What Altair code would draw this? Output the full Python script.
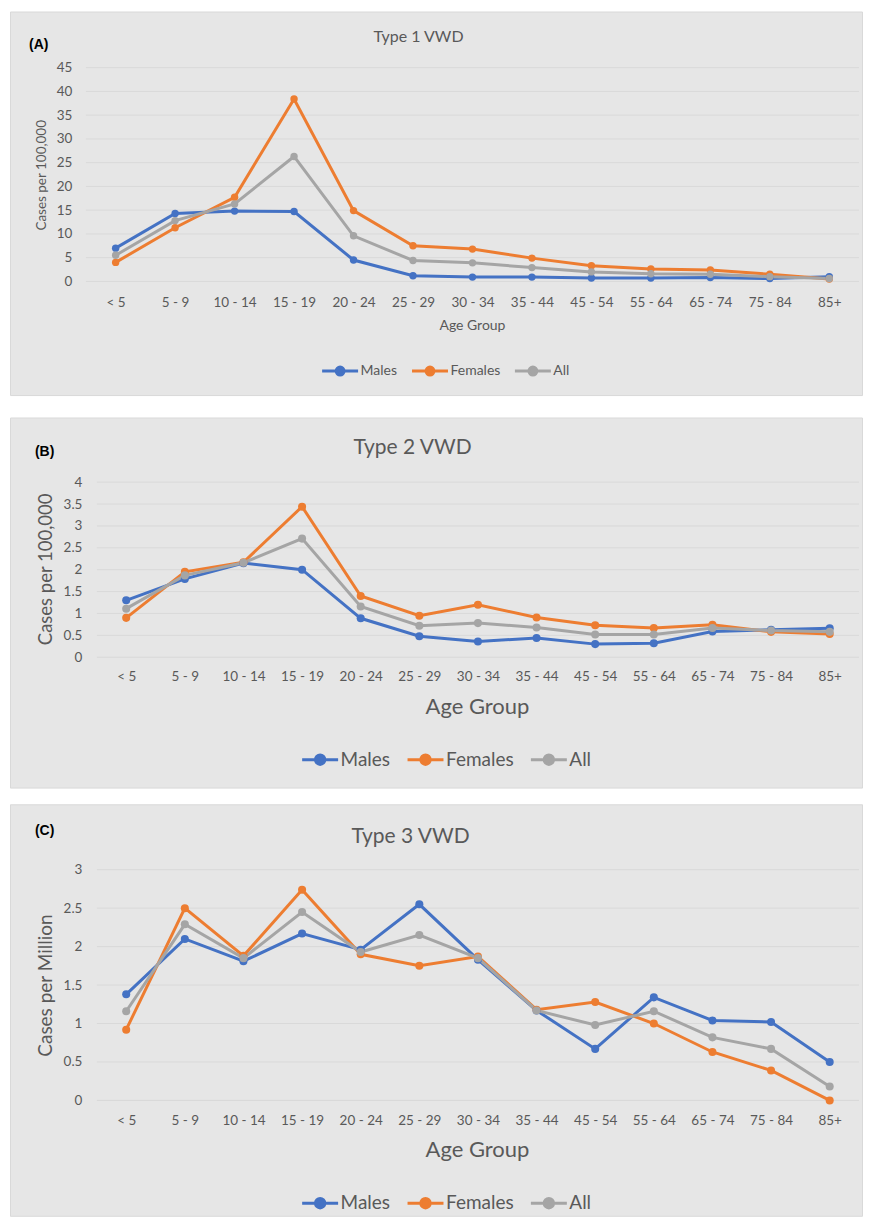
import altair as alt
import pandas as pd

ages = ["< 5", "5 - 9", "10 - 14", "15 - 19", "20 - 24", "25 - 29", "30 - 34",
        "35 - 44", "45 - 54", "55 - 64", "65 - 74", "75 - 84", "85+"]
series = ["Males", "Females", "All"]
colors = ["#4472C4", "#ED7D31", "#A5A5A5"]

# Type 1 VWD (cases per 100,000)
t1_males = [7.0, 14.3, 14.8, 14.7, 4.5, 1.2, 0.9, 0.9, 0.7, 0.7, 0.8, 0.6, 1.0]
t1_females = [4.0, 11.3, 17.7, 38.4, 14.9, 7.5, 6.8, 4.9, 3.3, 2.6, 2.4, 1.5, 0.5]
t1_all = [5.5, 12.8, 16.3, 26.3, 9.6, 4.4, 3.9, 2.9, 2.0, 1.6, 1.5, 1.0, 0.6]

# Type 2 VWD (cases per 100,000)
t2_males = [1.30, 1.79, 2.15, 2.00, 0.89, 0.48, 0.36, 0.44, 0.30, 0.32, 0.59, 0.63, 0.66]
t2_females = [0.90, 1.95, 2.17, 3.44, 1.40, 0.95, 1.20, 0.91, 0.73, 0.67, 0.74, 0.58, 0.53]
t2_all = [1.11, 1.87, 2.16, 2.71, 1.16, 0.72, 0.78, 0.68, 0.52, 0.52, 0.67, 0.61, 0.58]

# Type 3 VWD (cases per million)
t3_males = [1.38, 2.10, 1.81, 2.17, 1.96, 2.55, 1.83, 1.17, 0.67, 1.34, 1.04, 1.02, 0.50]
t3_females = [0.92, 2.50, 1.88, 2.74, 1.90, 1.75, 1.87, 1.18, 1.28, 1.00, 0.63, 0.39, 0.00]
t3_all = [1.16, 2.29, 1.85, 2.45, 1.93, 2.15, 1.85, 1.17, 0.98, 1.16, 0.82, 0.67, 0.18]

ticks_a = [0, 5, 10, 15, 20, 25, 30, 35, 40, 45]
ticks_b = [0, 0.5, 1, 1.5, 2, 2.5, 3, 3.5, 4]
ticks_c = [0, 0.5, 1, 1.5, 2, 2.5, 3]

FONT = "Lato"
TXT = "#595959"
BG = "#e6e6e6"
EDGE = "#d9d9d9"
GRID = "#d9d9d9"
W = 774


def long_df(m, f, a):
    rows = []
    for s, vals in zip(series, [m, f, a]):
        for age, v in zip(ages, vals):
            rows.append({"age": age, "series": s, "value": v})
    return pd.DataFrame(rows)


def sym_path(r):
    # line + circle legend glyph, drawn over [-2, 2] so that the legend row stays short
    return (f"M-2,0H{-r}A{r},{r},0,1,1,{r},0A{r},{r},0,1,1,{-r},0M{r},0H2")


def txt(text, x, y, size, align="center", baseline="alphabetic", angle=0,
        color=TXT, font=FONT, weight="normal"):
    return alt.Chart(alt.Data(values=[{}])).mark_text(
        text=text, align=align, baseline=baseline, angle=angle, fontSize=size,
        font=font, color=color, fontWeight=weight
    ).encode(x=alt.value(x), y=alt.value(y))


def panel(df, ticks, ydomain, height, yrange, xrange, c):
    yscale = alt.Scale(domain=ydomain, range=yrange, nice=False, zero=True)
    xscale = alt.Scale(type="point", padding=0.5, range=xrange)
    yaxis = alt.Axis(values=ticks, format="~g", grid=False, ticks=False, domain=False,
                     title=None, labelFont=FONT, labelFontSize=c["ylab"], labelColor=TXT,
                     labelPadding=c["ypad"], offset=c["yoff"], zindex=2)
    xaxis = alt.Axis(grid=False, ticks=False, domain=False, title=None, labelAngle=0,
                     labelFont=FONT, labelFontSize=c["xlab"], labelColor=TXT,
                     labelPadding=c["xpad"], zindex=2)
    leg = alt.Legend(title=None, orient="none", legendX=c["legx"], legendY=c["legy"],
                     direction="horizontal", symbolType=sym_path(c["r"]), symbolSize=324,
                     symbolStrokeWidth=3, labelFont=FONT, labelFontSize=c["legfs"],
                     labelColor=TXT, labelOffset=10, columnPadding=c["colpad"],
                     zindex=2)
    cscale = alt.Scale(domain=series, range=colors)

    bg = alt.Chart(alt.Data(values=[{}])).mark_rect(
        fill=BG, stroke=EDGE, strokeWidth=1
    ).encode(x=alt.value(c["rect"][0]), x2=alt.value(c["rect"][1]),
             y=alt.value(c["rect"][2]), y2=alt.value(c["rect"][3]))

    grid = alt.Chart(pd.DataFrame({"t": ticks})).mark_rule(
        color=GRID, strokeWidth=1
    ).encode(y=alt.Y("t:Q", scale=yscale, axis=yaxis),
             x=alt.value(xrange[0]), x2=alt.value(W))

    base = alt.Chart(df)
    x = alt.X("age:O", sort=ages, scale=xscale, axis=xaxis)
    y = alt.Y("value:Q", scale=yscale, axis=yaxis)
    line = base.mark_line(strokeWidth=3).encode(
        x=x, y=y,
        stroke=alt.Stroke("series:N", sort=series, scale=cscale, legend=leg),
    )
    pts = base.mark_point(filled=True, size=c["psize"], opacity=1).encode(
        x=x, y=y,
        fill=alt.Fill("series:N", sort=series, scale=cscale, legend=leg),
    )
    texts = [
        txt(c["tag"], c["tagpos"][0], c["tagpos"][1], 14, align="left",
            color="#000000", font="Liberation Sans", weight="bold"),
        txt(c["title"], c["titlepos"][0], c["titlepos"][1], c["titlefs"]),
        txt(c["ytitle"], c["ytpos"][0], c["ytpos"][1], c["ytfs"], baseline="middle", angle=270),
        txt("Age Group", c["xtpos"][0], c["xtpos"][1], c["xtfs"], baseline="middle"),
    ]
    return alt.layer(bg, grid, *texts, line, pts).properties(width=W, height=height)


RX = (-75.5, 777.5)  # panel background, left/right, relative to the plot's left edge

cfg_a = dict(ylab=13.5, ypad=14, yoff=0, xlab=13.5, xpad=14, legx=244, legy=293,
             r=0.44, legfs=14, colpad=8, psize=55,
             rect=(RX[0], RX[1], -55.7, 328.3),
             tag="(A)", tagpos=(-57, -19), title="Type 1 VWD", titlepos=(333, -25.7),
             titlefs=16, ytitle="Cases per 100,000", ytpos=(-44, 107.8), ytfs=13.5,
             xtpos=(387, 258.3), xtfs=14)
cfg_b = dict(ylab=13.5, ypad=15, yoff=-11, xlab=13.5, xpad=12, legx=224, legy=267,
             r=0.52, legfs=19, colpad=10.5, psize=65,
             rect=(RX[0], RX[1], -64.2, 306.3),
             tag="(B)", tagpos=(-51, -25.7), title="Type 2 VWD", titlepos=(327, -27.7),
             titlefs=21, ytitle="Cases per 100,000", ytpos=(-40, 87.3), ytfs=18.5,
             xtpos=(392, 225.3), xtfs=22)
cfg_c = dict(ylab=13.5, ypad=15, yoff=-11, xlab=13.5, xpad=13.5, legx=224, legy=334,
             r=0.52, legfs=19, colpad=10.5, psize=65,
             rect=(RX[0], RX[1], -54, 358),
             tag="(C)", tagpos=(-51, -24), title="Type 3 VWD", titlepos=(325, -16),
             titlefs=21, ytitle="Cases per Million", ytpos=(-40, 127), ytfs=19,
             xtpos=(392, 292), xtfs=22)

pa = panel(long_df(t1_males, t1_females, t1_all), ticks_a, [0, 45], 214, [214, 0], [0, W], cfg_a)
pb = panel(long_df(t2_males, t2_females, t2_all), ticks_b, [0, 4], 175.3, [175.3, 0], [11, W], cfg_b)
pc = panel(long_df(t3_males, t3_females, t3_all), ticks_c, [0, 3], 242, [242, 11], [11, W], cfg_c)

chart = alt.vconcat(pa, pb, pc, spacing=201, bounds="flush").resolve_scale(
    x="independent", y="independent", stroke="independent", fill="independent"
).resolve_legend(stroke="independent", fill="independent").resolve_axis(
    x="independent", y="independent"
).properties(
    padding={"left": 2, "top": 2, "right": 0, "bottom": 0}
).configure_view(strokeWidth=0)

chart.save("out.html", embed_options={"renderer": "svg", "actions": False})
